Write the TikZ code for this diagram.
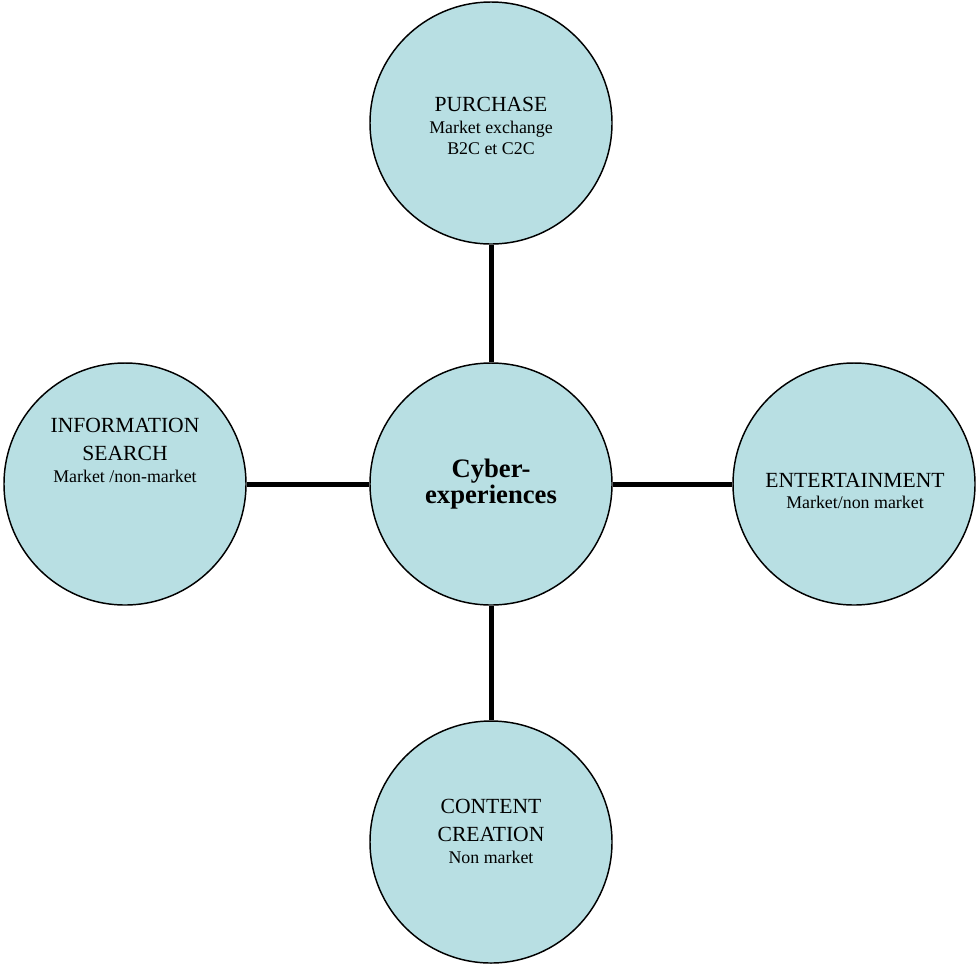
\documentclass[tikz,border=0pt]{standalone}
\usepackage{fontspec}
\setmainfont{Liberation Serif}
\definecolor{bubble}{HTML}{B8DFE3}
\begin{document}
\begin{tikzpicture}[x=0.75pt,y=-0.75pt,
  bubble/.style={circle,draw=black,line width=1.1pt,fill=bubble,minimum size=181.5pt,inner sep=0pt},
  link/.style={line width=3.75pt,draw=black},
  ttl/.style={anchor=base,inner sep=0pt,font=\fontsize{16.2}{19}\selectfont},
  sub/.style={anchor=base,inner sep=0pt,font=\fontsize{13.4}{16}\selectfont},
  core/.style={anchor=base,inner sep=0pt,font=\fontsize{20}{23}\selectfont\bfseries}]
\useasboundingbox (0,0) rectangle (977,965);
\node[bubble] (top) at (491,123) {};
\node[bubble] (mid) at (491,484) {};
\node[bubble] (left) at (125,484) {};
\node[bubble] (right) at (854,484) {};
\node[bubble] (bot) at (491,842) {};
\draw[link] (top) -- (mid);
\draw[link] (mid) -- (bot);
\draw[link] (left) -- (mid);
\draw[link] (mid) -- (right);
% top
\node[ttl] (t1) at (491,111) {PURCHASE};
\node[sub] (t2) at (491,133) {Market exchange};
\node[sub] (t3) at (491,154) {B2C et C2C};
% center
\node[core] (m1) at (491,477) {Cyber-};
\node[core] (m2) at (491,503) {experiences};
% left
\node[ttl] (l1) at (125,432) {INFORMATION};
\node[ttl] (l2) at (125,460) {SEARCH};
\node[sub] (l3) at (125,482) {Market /non-market};
% right
\node[ttl] (r1) at (855,487) {ENTERTAINMENT};
\node[sub] (r2) at (855,508) {Market/non market};
% bottom
\node[ttl] (b1) at (491,813) {CONTENT};
\node[ttl] (b2) at (491,841) {CREATION};
\node[sub] (b3) at (491,863) {Non market};
\end{tikzpicture}
\end{document}
